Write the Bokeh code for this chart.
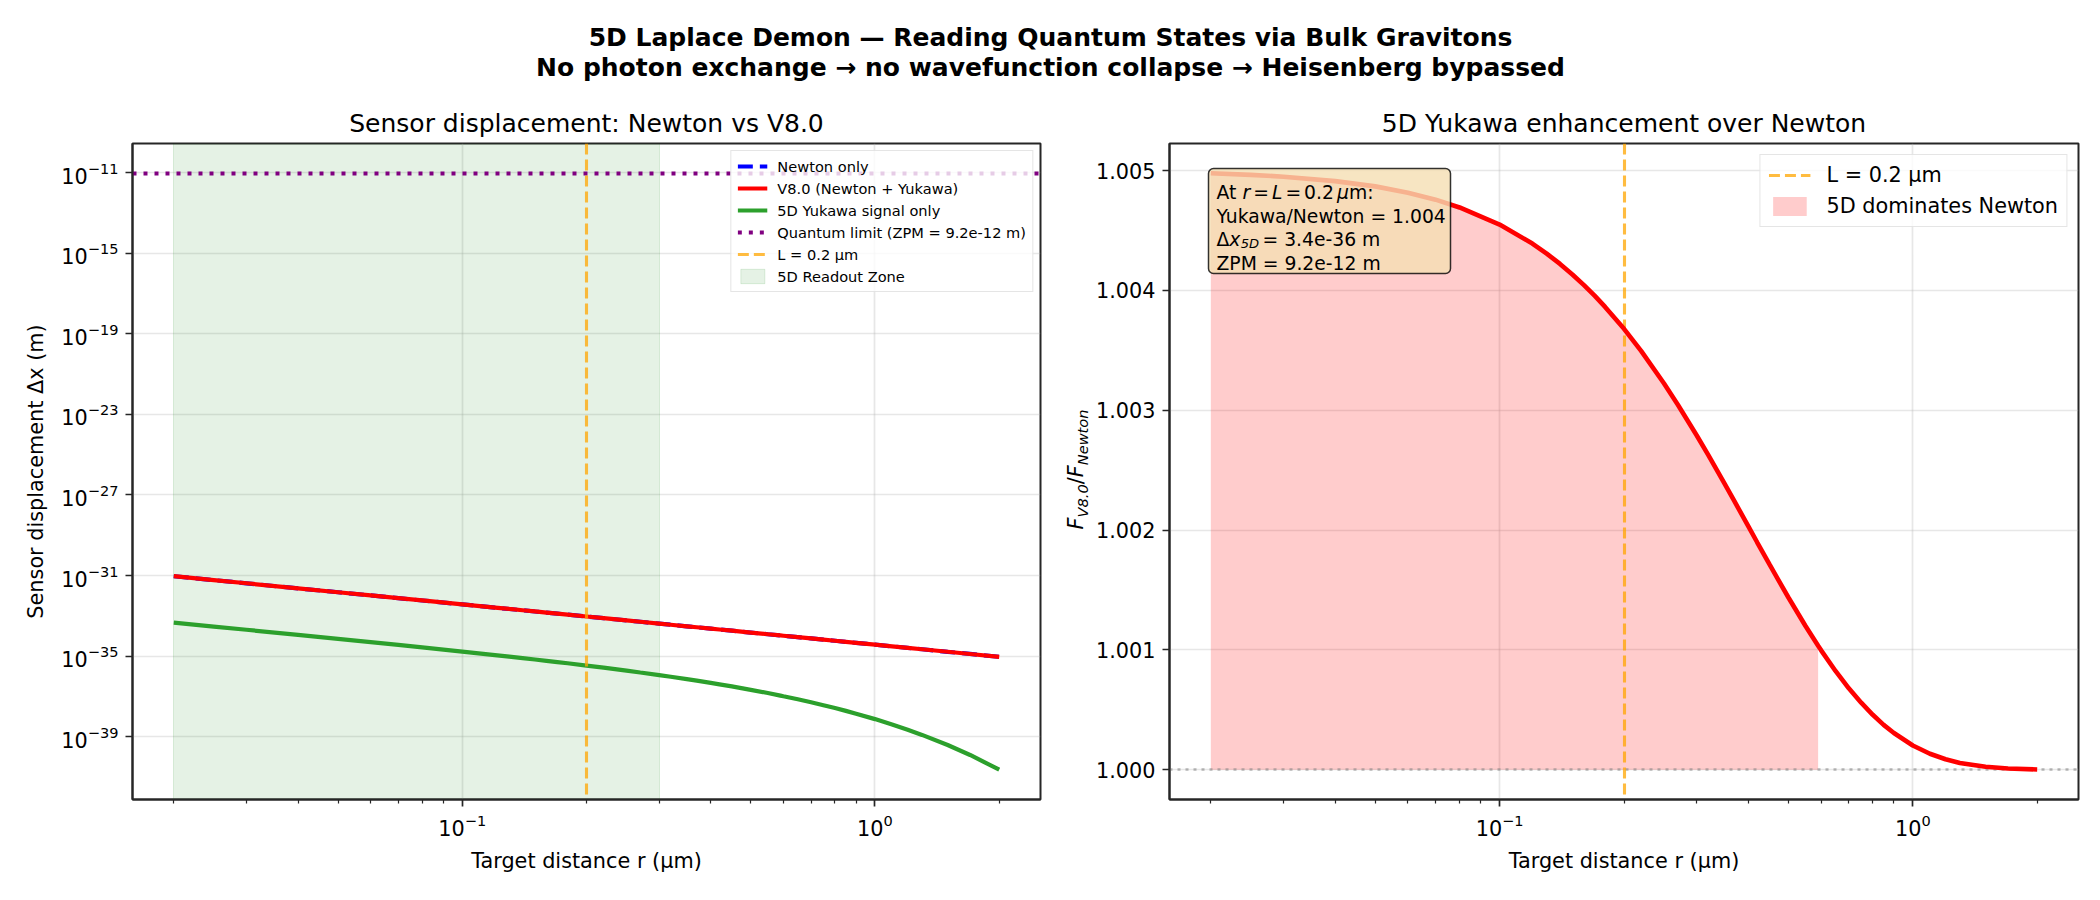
import math
from bokeh.plotting import figure
from bokeh.layouts import column, row
from bokeh.models import (FixedTicker, LogTickFormatter, PrintfTickFormatter, Legend,
                          LegendItem, Label, BoxAnnotation, Range1d)
from bokeh.embed import file_html
from bokeh.resources import INLINE

FONT = "DejaVu Sans"

# ---------------- data ----------------
r_um = [0.02, 0.025, 0.03, 0.04, 0.05, 0.06, 0.07, 0.08, 0.1, 0.12, 0.13, 0.14, 0.15,
        0.16, 0.17, 0.18, 0.2, 0.22, 0.25, 0.27, 0.3, 0.32, 0.35, 0.37, 0.4, 0.42,
        0.45, 0.5, 0.55, 0.59, 0.6, 0.65, 0.7, 0.75, 0.8, 0.85, 0.9, 1.0, 1.1, 1.2,
        1.3, 1.5, 1.7, 2.0]
newton_dx = [9.24e-32, 5.91e-32, 4.11e-32, 2.31e-32, 1.48e-32, 1.03e-32, 7.54e-33,
             5.78e-33, 3.70e-33, 2.57e-33, 2.187e-33, 1.886e-33, 1.64e-33, 1.444e-33,
             1.28e-33, 1.141e-33, 9.24e-34, 7.636e-34, 5.91e-34, 5.070e-34, 4.11e-34,
             3.609e-34, 3.02e-34, 2.700e-34, 2.31e-34, 2.095e-34, 1.83e-34, 1.48e-34,
             1.22e-34, 1.06e-34, 1.03e-34, 8.75e-35, 7.54e-35, 6.571e-35, 5.78e-35,
             5.116e-35, 4.56e-35, 3.70e-35, 3.05e-35, 2.57e-35, 2.19e-35, 1.64e-35,
             1.28e-35, 9.24e-36]
v80_dx = [9.286e-32, 5.939e-32, 4.127e-32, 2.321e-32, 1.486e-32, 1.032e-32, 7.579e-33,
          5.802e-33, 3.713e-33, 2.578e-33, 2.196e-33, 1.894e-33, 1.650e-33, 1.450e-33,
          1.284e-33, 1.145e-33, 9.274e-34, 7.663e-34, 5.933e-34, 5.085e-34, 4.118e-34,
          3.618e-34, 3.024e-34, 2.706e-34, 2.315e-34, 2.099e-34, 1.828e-34, 1.480e-34,
          1.223e-34, 1.063e-34, 1.028e-34, 8.757e-35, 7.548e-35, 6.575e-35, 5.778e-35,
          5.118e-35, 4.564e-35, 3.697e-35, 3.055e-35, 2.567e-35, 2.187e-35, 1.643e-35,
          1.279e-35, 9.240e-36]
yukawa_dx = [4.60e-34, 2.93e-34, 2.03e-34, 1.14e-34, 7.20e-35, 4.94e-35, 3.59e-35,
             2.71e-35, 1.68e-35, 1.13e-35, 9.42e-36, 7.96e-36, 6.79e-36, 5.84e-36,
             5.06e-36, 4.41e-36, 3.40e-36, 2.67e-36, 1.91e-36, 1.54e-36, 1.15e-36,
             9.47e-37, 7.21e-37, 6.05e-37, 4.69e-37, 3.98e-37, 3.13e-37, 2.12e-37,
             1.47e-37, 1.10e-37, 1.02e-37, 7.21e-38, 5.13e-38, 3.67e-38, 2.64e-38,
             1.92e-38, 1.39e-38, 7.47e-39, 4.06e-39, 2.23e-39, 1.23e-39, 3.86e-40,
             1.24e-40, 2.31e-41]
ratio_v80_newton = [1.004977, 1.004964, 1.004949, 1.004912, 1.004868, 1.004815, 1.004757,
                    1.004692, 1.004549, 1.004391, 1.004307, 1.004221, 1.004133, 1.004044,
                    1.003954, 1.003862, 1.003679, 1.003495, 1.003223, 1.003046, 1.002789,
                    1.002625, 1.002389, 1.002241, 1.002030, 1.001898, 1.001713, 1.001437,
                    1.001199, 1.001034, 1.000996, 1.000824, 1.000679, 1.000559, 1.000458,
                    1.000374, 1.000306, 1.000202, 1.000133, 1.000087, 1.000056, 1.000024,
                    1.000010, 1.000002]
L_um = 0.2
zpm_m = 9.2e-12
readout_zone_um = [0.02, 0.3]
newton_baseline = 1.0
dominance_threshold = 1.001

x_major_ticks = [0.1, 1.0]
x_minor_ticks = [0.02, 0.03, 0.04, 0.05, 0.06, 0.07, 0.08, 0.09,
                 0.2, 0.3, 0.4, 0.5, 0.6, 0.7, 0.8, 0.9, 2.0]
y_left_ticks = [1e-39, 1e-35, 1e-31, 1e-27, 1e-23, 1e-19, 1e-15, 1e-11]
y_right_ticks = [1.000, 1.001, 1.002, 1.003, 1.004, 1.005]

# ---------------- ranges (5% autoscale margins like the original) ----------------
def log_range(lo, hi):
    a, b = math.log10(lo), math.log10(hi)
    m = 0.05 * (b - a)
    return Range1d(10 ** (a - m), 10 ** (b + m))

def lin_range(lo, hi):
    m = 0.05 * (hi - lo)
    return Range1d(lo - m, hi + m)

FW, FH = 908, 656
BT, BB = 55, 85
TICK = "20.8px"
AXC = "#262626"


def style(p):
    p.title.text_font = FONT
    p.title.text_font_size = "25px"
    p.title.text_font_style = "normal"
    p.title.text_color = "black"
    p.title.align = "center"
    p.title.standoff = 12
    for ax in p.axis:
        ax.major_label_text_font = FONT
        ax.major_label_text_font_size = TICK
        ax.major_label_text_color = "black"
        ax.axis_label_text_font = FONT
        ax.axis_label_text_font_size = TICK
        ax.axis_label_text_font_style = "normal"
        ax.axis_label_text_color = "black"
        ax.axis_line_color = AXC
        ax.axis_line_width = 2
        ax.major_tick_line_color = AXC
        ax.major_tick_line_width = 1.7
        ax.minor_tick_line_color = AXC
        ax.minor_tick_line_width = 1.2
        ax.major_tick_in = 0
        ax.major_tick_out = 7
        ax.minor_tick_in = 0
        ax.minor_tick_out = 4
        ax.major_label_standoff = 7
        ax.axis_label_standoff = 10
    for g in p.grid:
        g.grid_line_color = "#b0b0b0"
        g.grid_line_alpha = 0.3
        g.grid_line_width = 1.7
    p.outline_line_color = AXC
    p.outline_line_width = 2
    p.outline_line_alpha = 1.0
    p.background_fill_color = "white"
    p.border_fill_color = "white"


def style_legend(lg, size, margin, padding, spacing, gw, gh, standoff):
    lg.margin = margin
    lg.padding = padding
    lg.spacing = spacing
    lg.glyph_width = gw
    lg.glyph_height = gh
    lg.label_height = gh
    lg.label_standoff = standoff
    lg.label_text_font = FONT
    lg.label_text_font_size = size
    lg.label_text_color = "black"
    lg.background_fill_alpha = 0.8
    lg.border_line_color = "#cccccc"
    lg.border_line_width = 1.5


def lab(p, text, x, y, size, style_="normal", angle=0.0, align="left",
        baseline="alphabetic", level="annotation"):
    p.add_layout(Label(x=x, y=y, x_units="screen", y_units="screen", text=text,
                       angle=angle, text_font=FONT, text_font_size=size,
                       text_font_style=style_, text_align=align,
                       text_baseline=baseline, text_color="black", level=level))


L_label = f"L = {L_um:g} μm"

# ---------------- left panel ----------------
p1 = figure(x_axis_type="log", y_axis_type="log",
            x_range=log_range(min(r_um), max(r_um)),
            y_range=log_range(min(yukawa_dx), max(max(v80_dx), zpm_m)),
            frame_width=FW, frame_height=FH,
            min_border_left=132, min_border_right=14, min_border_top=BT, min_border_bottom=BB,
            toolbar_location=None, output_backend="svg",
            title="Sensor displacement: Newton vs V8.0")
style(p1)
p1.xaxis.ticker = FixedTicker(ticks=x_major_ticks, minor_ticks=x_minor_ticks)
p1.yaxis.ticker = FixedTicker(ticks=y_left_ticks, minor_ticks=[])
p1.xaxis.formatter = LogTickFormatter()
p1.yaxis.formatter = LogTickFormatter()
p1.xaxis.axis_label = "Target distance r (μm)"
p1.yaxis.axis_label = "Sensor displacement Δx (m)"
p1.xgrid.ticker = FixedTicker(ticks=x_major_ticks)
p1.ygrid.ticker = FixedTicker(ticks=y_left_ticks)

zone = p1.vstrip(x0=[readout_zone_um[0]], x1=[readout_zone_um[1]],
                 fill_color="green", fill_alpha=0.1, line_color="green", line_alpha=0.12)
newton_r = p1.line(r_um, newton_dx, line_color="blue", line_width=4.2, line_dash="15 7")
v80_r = p1.line(r_um, v80_dx, line_color="red", line_width=4.2)
yuk_r = p1.line(r_um, yukawa_dx, line_color="#2ca02c", line_width=4.2)
zpm_r = p1.hspan(y=[zpm_m], line_color="purple", line_width=4.2, line_dash="4 7")
L1_r = p1.vspan(x=[L_um], line_color="orange", line_alpha=0.75, line_width=3.1,
                line_dash="11 5")

leg1 = Legend(items=[
    LegendItem(label="Newton only", renderers=[newton_r]),
    LegendItem(label="V8.0 (Newton + Yukawa)", renderers=[v80_r]),
    LegendItem(label="5D Yukawa signal only", renderers=[yuk_r]),
    LegendItem(label=f"Quantum limit (ZPM = {zpm_m:.1e} m)", renderers=[zpm_r]),
    LegendItem(label=L_label, renderers=[L1_r]),
    LegendItem(label="5D Readout Zone", renderers=[zone]),
], location="top_right")
style_legend(leg1, "14.6px", 7, 6, 4, 30, 18, 10)
p1.add_layout(leg1)

# ---------------- y-label strip for right panel (composite math label) ----------------
YLW = 36
ylab = figure(width=YLW, height=BT + FH + BB, x_range=Range1d(0, 1), y_range=Range1d(0, 1),
              toolbar_location=None, output_backend="svg", min_border=0,
              x_axis_location=None, y_axis_location=None, outline_line_color=None)
ylab.grid.visible = False

ROT = math.pi / 2
y0 = BB + FH / 2 - 60 - 83
# (text, centre along the text direction, font size, style, centre across)
for txt, c, size, st, xc in [("F", 6.0, "20.8px", "italic", 21.3),
                             ("V8.0", 28.6, "14.6px", "italic", 27.5),
                             ("/", 48.7, "20.8px", "normal", 21.3),
                             ("F", 58.2, "20.8px", "italic", 21.3),
                             ("Newton", 92.1, "14.6px", "italic", 27.5)]:
    lab(ylab, txt, xc, y0 + c, size, st, angle=ROT, align="center", baseline="middle")

# ---------------- right panel ----------------
p2 = figure(x_axis_type="log",
            x_range=log_range(min(r_um), max(r_um)),
            y_range=lin_range(min(newton_baseline, min(ratio_v80_newton)), max(ratio_v80_newton)),
            frame_width=909, frame_height=FH,
            min_border_left=79, min_border_right=6, min_border_top=BT, min_border_bottom=BB,
            toolbar_location=None, output_backend="svg",
            title="5D Yukawa enhancement over Newton")
style(p2)
p2.xaxis.ticker = FixedTicker(ticks=x_major_ticks, minor_ticks=x_minor_ticks)
p2.xaxis.formatter = LogTickFormatter()
p2.yaxis.ticker = FixedTicker(ticks=y_right_ticks, minor_ticks=[])
p2.yaxis.formatter = PrintfTickFormatter(format="%.3f")
p2.xaxis.axis_label = "Target distance r (μm)"
p2.xgrid.ticker = FixedTicker(ticks=x_major_ticks)
p2.ygrid.ticker = FixedTicker(ticks=y_right_ticks)

fill_r = [x for x, q in zip(r_um, ratio_v80_newton) if q >= dominance_threshold]
fill_q = [q for q in ratio_v80_newton if q >= dominance_threshold]
dom_r = p2.varea(x=fill_r, y1=newton_baseline, y2=fill_q, fill_color="red", fill_alpha=0.2)
p2.hspan(y=[newton_baseline], line_color="gray", line_alpha=0.55, line_width=2.6, line_dash="3 5")
L2_r = p2.vspan(x=[L_um], line_color="orange", line_alpha=0.75, line_width=3.1, line_dash="11 5")
p2.line(r_um, ratio_v80_newton, line_color="red", line_width=4.6)

leg2 = Legend(items=[
    LegendItem(label=L_label, renderers=[L2_r]),
    LegendItem(label="5D dominates Newton", renderers=[dom_r]),
], location="top_right")
style_legend(leg2, "20.8px", 11, 8, 7, 42, 24, 16)
p2.add_layout(leg2)

# annotation box
p2.add_layout(BoxAnnotation(left=39, right=281, top=FH - 25, bottom=FH - 130,
                            left_units="screen", right_units="screen",
                            top_units="screen", bottom_units="screen",
                            fill_color="wheat", fill_alpha=0.8,
                            line_color="black", line_alpha=0.8, line_width=1.5,
                            border_radius=5, level="annotation"))
iL = r_um.index(L_um)
AS = "18.75px"
b1, b2, b3, b4 = FH - 48.7, FH - 72.5, FH - 96.0, FH - 119.5
for txt, x, st in [("At", 47, "normal"), ("r", 73.1, "italic"), ("=", 83.8, "normal"),
                   ("L", 102.5, "italic"), ("=", 115.9, "normal"),
                   (f"{L_um:g}", 134.6, "normal"), ("μ", 167.5, "italic"),
                   ("m:", 179.6, "normal")]:
    lab(p2, txt, x, b1, AS, st, level="overlay")
lab(p2, f"Yukawa/Newton = {ratio_v80_newton[iL]:.3f}", 47, b2, AS, level="overlay")
lab(p2, "Δ", 47, b3, AS, level="overlay")
lab(p2, "x", 59.8, b3, AS, "italic", level="overlay")
lab(p2, "5D", 71.2, b3 - 4, "13.1px", "italic", level="overlay")
lab(p2, f" = {yukawa_dx[iL]:.1e} m", 93, b3, AS, level="overlay")
lab(p2, f"ZPM = {zpm_m:.1e} m", 47, b4, AS, level="overlay")

# ---------------- header (suptitle) ----------------
W_TOTAL = 132 + FW + 14 + YLW + 79 + 909 + 6
HH = 88
hdr = figure(width=W_TOTAL, height=HH, x_range=Range1d(0, 1), y_range=Range1d(0, 1),
             toolbar_location=None, output_backend="svg", min_border=0,
             x_axis_location=None, y_axis_location=None, outline_line_color=None)
hdr.grid.visible = False
for txt, yb in [("5D Laplace Demon — Reading Quantum States via Bulk Gravitons", HH - 36.7),
                ("No photon exchange → no wavefunction collapse → Heisenberg bypassed", HH - 66.7)]:
    hdr.add_layout(Label(x=1050, y=yb, x_units="screen", y_units="screen", text=txt,
                         text_font=FONT, text_font_size="25px", text_font_style="bold",
                         text_align="center", text_baseline="alphabetic", text_color="black"))

layout = column(hdr, row(p1, ylab, p2, spacing=0), spacing=0)
open("out.html", "w").write(file_html(layout, INLINE))
